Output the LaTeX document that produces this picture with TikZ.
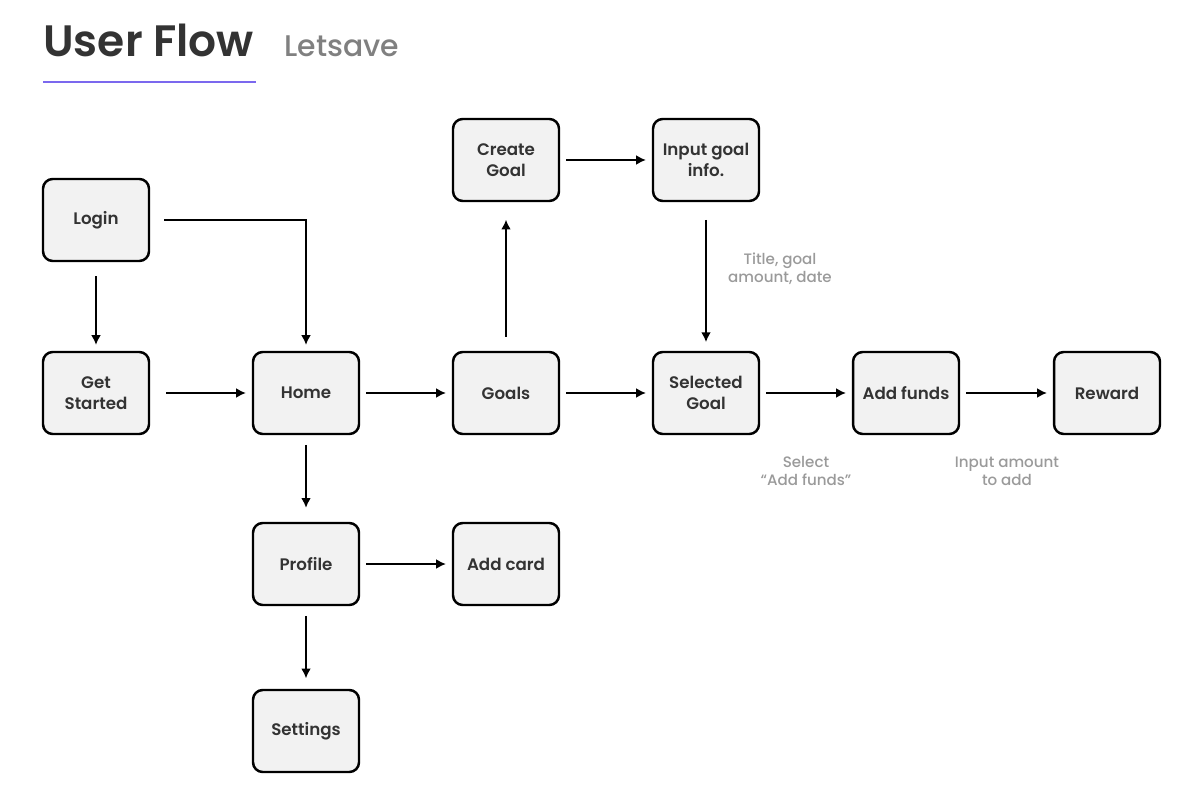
\documentclass[tikz,border=0pt]{standalone}
\usepackage{fontspec}
\setmainfont{Poppins}
\newfontfamily\medfont{Poppins Medium}
\newfontfamily\semifont{Poppins SemiBold}
\usetikzlibrary{arrows.meta}
\definecolor{boxfill}{HTML}{F2F2F2}
\definecolor{titlegray}{HTML}{333333}
\definecolor{subgray}{HTML}{808080}
\definecolor{notegray}{HTML}{9A9A9A}
\definecolor{linepurple}{HTML}{7B68EE}
\tikzset{
  screen/.style={draw=black, line width=1.4pt, fill=boxfill, rounded corners=5.5pt,
    minimum width=2.12cm, minimum height=1.64cm, align=center,
    font=\semifont\fontsize{9.5}{12}\selectfont, text=titlegray},
  flow/.style={line width=0.8pt, -{Latex[length=5.5pt,width=5.5pt]},
    shorten <=3.4pt, shorten >=3.4pt},
  note/.style={align=center, font=\medfont\fontsize{8.6}{10.4}\selectfont, text=notegray}
}
\begin{document}
\begin{tikzpicture}[x=0.02cm,y=-0.02cm]
\useasboundingbox (0,0) rectangle (1200,800);
% title
\node[anchor=base west, inner sep=0pt, text=titlegray, font=\semifont\fontsize{25}{30}\selectfont] (title) at (43,57) {User Flow};
\node[anchor=base west, inner sep=0pt, text=subgray, font=\medfont\fontsize{17}{20}\selectfont] (sub) at (284,57) {Letsave};
\draw[linepurple, line width=1.7pt] (43,82) -- (256,82);
% screens
\node[screen] (login) at (96,220) {Login};
\node[screen] (start) at (96,393) {Get\\Started};
\node[screen] (home) at (306,393) {Home};
\node[screen] (goals) at (506,393) {Goals};
\node[screen] (create) at (506,160) {Create\\Goal};
\node[screen] (input) at (706,160) {Input goal\\info.};
\node[screen] (selected) at (706,393) {Selected\\Goal};
\node[screen] (funds) at (906,393) {Add funds};
\node[screen] (reward) at (1107,393) {Reward};
\node[screen] (profile) at (306,564) {Profile};
\node[screen] (card) at (506,564) {Add card};
\node[screen] (settings) at (306,731) {Settings};
% connectors
\draw[flow, shorten <=8pt] (login) -- (start);
\draw[flow, shorten <=8pt] (login) -| (home);
\draw[flow, shorten <=9pt] (start) -- (home);
\draw[flow] (home) -- (goals);
\draw[flow, shorten <=8pt, shorten >=10pt] (goals) -- (create);
\draw[flow] (create) -- (input);
\draw[flow, shorten <=10pt, shorten >=5pt] (input) -- (selected);
\draw[flow] (goals) -- (selected);
\draw[flow] (selected) -- (funds);
\draw[flow] (funds) -- (reward);
\draw[flow, shorten <=5.5pt, shorten >=8pt] (home) -- (profile);
\draw[flow] (profile) -- (card);
\draw[flow, shorten <=5.5pt, shorten >=6pt] (profile) -- (settings);
% notes
\node[note] (n1) at (780,269) {Title, goal\\amount, date};
\node[note] (n2) at (806,471) {Select\\“Add funds”};
\node[note] (n3) at (1007,471) {Input amount\\to add};
\end{tikzpicture}
\end{document}
